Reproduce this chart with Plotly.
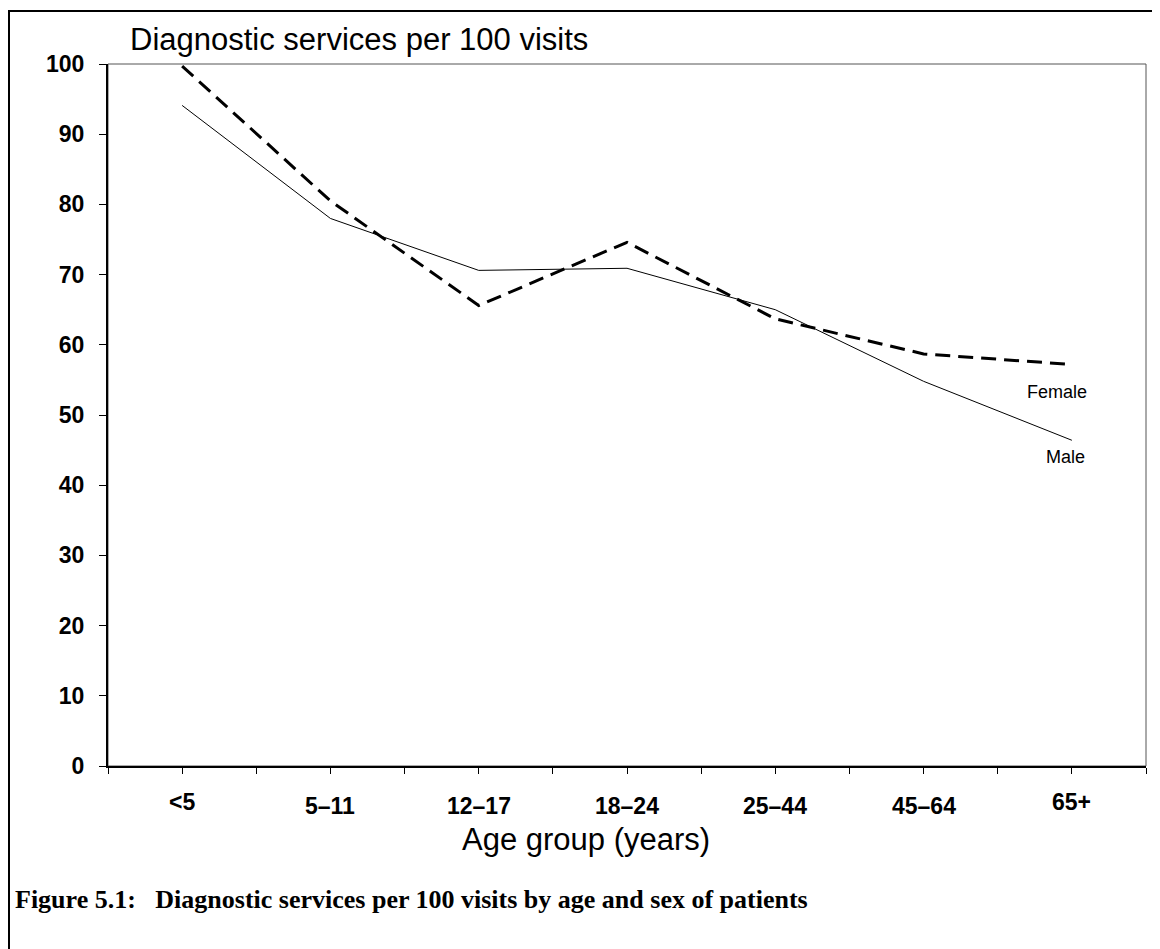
import plotly.graph_objects as go

age_groups = ['<5', '5–11', '12–17', '18–24', '25–44', '45–64', '65+']
male = [94.1, 78.0, 70.6, 70.9, 65.0, 54.8, 46.4]
female = [99.7, 80.5, 65.6, 74.6, 63.7, 58.7, 57.2]
y_ticks = [0, 10, 20, 30, 40, 50, 60, 70, 80, 90, 100]

FONT = "Arial, 'Liberation Sans', sans-serif"
xpos = list(range(len(age_groups)))

# plot area in figure pixels (page has an 8px body margin)
L, T, R, B = 100, 56, 22, 191
PW, PH = 1160 - L - R, 949 - T - B


def py(fig_y):
    # figure pixel row -> paper y
    return (T + PH - fig_y) / PH


fig = go.Figure()
fig.add_trace(go.Scatter(x=xpos, y=male, mode='lines', name='Male',
                         line=dict(color='black', width=1)))
fig.add_trace(go.Scatter(x=xpos, y=female, mode='lines', name='Female',
                         line=dict(color='black', width=3, dash='15px,8px')))

# thin box round the plot area
fig.add_shape(type='rect', xref='paper', yref='paper', x0=0, y0=0, x1=1, y1=1,
              line=dict(color='#555', width=1), layer='below')
# outer frame
fig.add_shape(type='rect', xref='paper', yref='paper',
              x0=(1 - L) / PW, y0=py(980), x1=1.2, y1=py(3),
              line=dict(color='black', width=2), layer='below')

fig.add_annotation(text='Diagnostic services per 100 visits', xref='paper', yref='paper',
                   x=(120 - L) / PW, y=py(51), xanchor='left', yanchor='bottom',
                   showarrow=False, font=dict(family=FONT, size=31, color='black'))

# category labels under the axis (end labels sit a little higher, as in the original)
for i, (xv, lab) in enumerate(zip(xpos, age_groups)):
    raise_px = 4 if i in (0, len(age_groups) - 1) else 0
    fig.add_annotation(text='<b>' + lab + '</b>', x=xv, xref='x', yref='paper', y=py(798),
                       yanchor='middle', yshift=raise_px, showarrow=False,
                       font=dict(family=FONT, size=23, color='black'))

fig.add_annotation(text='Age group (years)', xref='paper', yref='paper',
                   x=(578 - L) / PW, y=py(831), xanchor='center', yanchor='middle',
                   showarrow=False, font=dict(family=FONT, size=31, color='black'))
fig.add_annotation(text='Female', x=5.9, y=53.3, showarrow=False,
                   font=dict(family=FONT, size=18, color='black'))
fig.add_annotation(text='Male', x=5.96, y=44.0, showarrow=False,
                   font=dict(family=FONT, size=18, color='black'))
fig.add_annotation(text='<b>Figure 5.1:   Diagnostic services per 100 visits by age and sex of patients</b>',
                   xref='paper', yref='paper', x=(5 - L) / PW, y=py(891),
                   xanchor='left', yanchor='middle', showarrow=False,
                   font=dict(family="'Liberation Serif', serif", size=26, color='black'))

fig.update_xaxes(range=[-0.5, 6.5], tickvals=xpos, showticklabels=False,
                 showgrid=False, zeroline=False, showline=True, linecolor='black', linewidth=2,
                 ticks='outside', ticklen=6, tickcolor='black', tickwidth=1,
                 minor=dict(dtick=0.5, tick0=-0.5, ticks='outside', ticklen=6, tickcolor='black'))
fig.update_yaxes(range=[0, 100], tickvals=y_ticks, showgrid=False, zeroline=False,
                 showline=True, linecolor='black', linewidth=2,
                 ticks='outside', ticklen=7, tickcolor='black', ticklabelstandoff=10,
                 tickfont=dict(family=FONT, size=23, color='black', weight='bold'))

fig.update_layout(width=1160, height=949, showlegend=False,
                  margin=dict(l=L, r=R, t=T, b=B),
                  plot_bgcolor='white', paper_bgcolor='white')

fig.write_html("out.html")
